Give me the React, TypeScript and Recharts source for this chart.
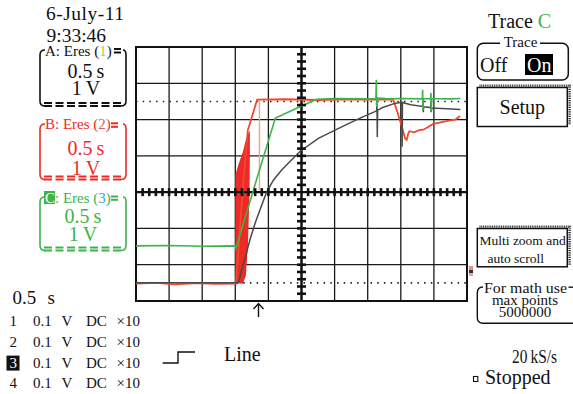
import React from 'react';
import {
  ComposedChart,
  Line,
  Area,
  XAxis,
  YAxis,
  CartesianGrid,
  ReferenceLine,
  ReferenceArea,
  Scatter,
} from 'recharts';

// ---------- data (in screen divisions: x 0..10, y -3..4) ----------
const xGridTicks = [0, 1, 2, 3, 4, 5, 6, 7, 8, 9, 10];
const yGridTicks = [-3, -2, -1, 0, 1, 2, 3, 4];
const cursorLevels = [2.5, -2.5];

// trace A (channel 1, gray)
const traceA = [
  { x: 0, y: -2.5 }, { x: 1.5, y: -2.5 }, { x: 3.0, y: -2.5 }, { x: 3.1, y: -2.48 },
  { x: 3.2, y: -2.12 }, { x: 3.3, y: -1.8 }, { x: 3.44, y: -1.32 }, { x: 3.6, y: -0.85 },
  { x: 3.78, y: -0.4 }, { x: 3.95, y: 0.01 }, { x: 4.15, y: 0.33 }, { x: 4.4, y: 0.61 },
  { x: 4.95, y: 1.12 }, { x: 5.51, y: 1.48 }, { x: 5.86, y: 1.64 }, { x: 6.4, y: 1.88 },
  { x: 6.87, y: 2.08 }, { x: 7.27, y: 2.24 }, { x: 7.28, y: 2.45 }, { x: 7.29, y: 1.52 },
  { x: 7.3, y: 2.26 }, { x: 7.47, y: 2.34 }, { x: 7.8, y: 2.44 }, { x: 8.03, y: 2.48 },
  { x: 8.04, y: 1.25 }, { x: 8.05, y: 2.47 }, { x: 8.3, y: 2.41 }, { x: 8.66, y: 2.36 },
  { x: 8.67, y: 2.52 }, { x: 8.68, y: 2.2 }, { x: 8.69, y: 2.35 }, { x: 8.9, y: 2.33 },
  { x: 8.91, y: 2.5 }, { x: 8.92, y: 2.2 }, { x: 8.93, y: 2.32 }, { x: 9.4, y: 2.3 },
  { x: 9.8, y: 2.28 },
];

// trace B (channel 2, red)
const traceB = [
  { x: 0, y: -2.52 }, { x: 0.6, y: -2.5 }, { x: 1.2, y: -2.54 }, { x: 1.8, y: -2.51 },
  { x: 2.4, y: -2.53 }, { x: 3.02, y: -2.52 }, { x: 3.26, y: 0.47 }, { x: 3.38, y: 1.71 },
  { x: 3.66, y: 2.55 }, { x: 4.5, y: 2.56 }, { x: 5.5, y: 2.54 }, { x: 6.5, y: 2.56 },
  { x: 7.77, y: 2.55 }, { x: 7.9, y: 2.2 }, { x: 8.05, y: 1.75 }, { x: 8.13, y: 1.48 },
  { x: 8.18, y: 1.44 }, { x: 8.22, y: 1.6 }, { x: 8.26, y: 1.68 }, { x: 8.4, y: 1.65 },
  { x: 8.55, y: 1.71 }, { x: 8.68, y: 1.72 }, { x: 8.8, y: 1.78 }, { x: 8.98, y: 1.88 },
  { x: 9.2, y: 1.92 }, { x: 9.49, y: 1.98 }, { x: 9.65, y: 2.0 }, { x: 9.79, y: 2.1 },
];

// trace B noisy envelope during the transition
const traceBBurst = [
  { x: 3.0, range: [-2.52, 0.47] },
  { x: 3.11, range: [-2.52, 0.8] },
  { x: 3.23, range: [-2.52, 1.11] },
  { x: 3.32, range: [-2.3, 1.45] },
  { x: 3.38, range: [-1.5, 1.6] },
  { x: 3.43, range: [0.0, 1.68] },
  { x: 3.44, range: [1.0, 1.68] },
];

// trace B glitch line
const traceBGlitch = [
  { x: 3.73, y: 2.54 },
  { x: 3.73, y: 0.06 },
];

// trace C (channel 3, green)
const traceC = [
  { x: 0, y: -1.48 }, { x: 1, y: -1.47 }, { x: 2, y: -1.49 }, { x: 3.0, y: -1.48 },
  { x: 3.02, y: -1.55 }, { x: 3.54, y: 0.04 }, { x: 4.21, y: 2.04 }, { x: 5.02, y: 2.38 },
  { x: 5.46, y: 2.56 }, { x: 6, y: 2.58 }, { x: 7, y: 2.57 }, { x: 7.25, y: 2.58 },
  { x: 7.26, y: 3.1 }, { x: 7.27, y: 2.35 }, { x: 7.28, y: 2.6 }, { x: 7.6, y: 2.57 },
  { x: 8.0, y: 2.58 }, { x: 8.65, y: 2.57 }, { x: 8.66, y: 2.82 }, { x: 8.67, y: 2.26 },
  { x: 8.68, y: 2.58 }, { x: 8.9, y: 2.57 }, { x: 8.91, y: 2.73 }, { x: 8.92, y: 2.22 },
  { x: 8.93, y: 2.58 }, { x: 9.5, y: 2.57 }, { x: 9.8, y: 2.58 },
];

// minor graticule ticks on the centre axes (every 1/5 division)
const hTicks = Array.from({ length: 49 }, (_, i) => ({ x: (i + 1) / 5, y: 0 })).filter(
  (d) => Math.abs(d.x - 5) > 0.01
);
const vTicks = Array.from({ length: 34 }, (_, i) => ({ x: 5, y: -3 + (i + 1) / 5 })).filter(
  (d) => Math.abs(d.y) > 0.01
);

// text
const dateText = '6-July-11';
const timeText = '9:33:46';
const channelRows = [
  { ch: '1', volts: '0.1', unit: 'V', coupling: 'DC', probe: '×10' },
  { ch: '2', volts: '0.1', unit: 'V', coupling: 'DC', probe: '×10' },
  { ch: '3', volts: '0.1', unit: 'V', coupling: 'DC', probe: '×10' },
  { ch: '4', volts: '0.1', unit: 'V', coupling: 'DC', probe: '×10' },
];

const SERIF = "'Liberation Serif', 'Times New Roman', serif";
const RED = '#ed2a26';
const RED_LINE = '#f04a2e';
const GREEN = '#3cb44a';
const GRAY = '#4a4a4a';

const HTick = (props: any) => (
  <rect x={props.cx - 1.3} y={props.cy - 4} width={2.6} height={8} fill="#111" />
);
const VTick = (props: any) => (
  <rect x={props.cx - 4.5} y={props.cy - 1.3} width={9} height={2.6} fill="#111" />
);

function Bracket({ top, bottom, color }: { top: number; bottom: number; color: string }) {
  const l = 40;
  const r = 126;
  return (
    <g stroke={color} fill="none" strokeWidth={1.6}>
      <path d={`M45 ${top} Q${l} ${top} ${l} ${top + 5} V${bottom - 5} Q${l} ${bottom} ${l + 5} ${bottom}`} />
      <path d={`M${r - 3} ${top} Q${r} ${top} ${r} ${top + 5} V${bottom - 5} Q${r} ${bottom} ${r - 5} ${bottom}`} />
      <line x1={l + 4} x2={r - 4} y1={bottom - 3} y2={bottom - 3} strokeDasharray="8 3.5" strokeWidth={1.8} />
      <line x1={l + 4} x2={r - 4} y1={bottom} y2={bottom} strokeDasharray="8 3.5" strokeWidth={1.8} />
    </g>
  );
}

function Overlay() {
  return (
    <svg
      width={573}
      height={394}
      style={{ position: 'absolute', left: 0, top: 0, pointerEvents: 'none' }}
      fontFamily={SERIF}
    >
      {/* date / time */}
      <text x={46} y={19.5} fontSize={19.5} fill="#111" textLength={78} lengthAdjust="spacing">{dateText}</text>
      <text x={46.5} y={41.5} fontSize={19.5} fill="#111">{timeText}</text>

      {/* channel A box */}
      <Bracket top={50} bottom={106} color="#111" />
      <text x={45} y={55.5} fontSize={15} fill="#111">
        A: Eres (<tspan fill="#c9c43a">1</tspan>)
      </text>
      <line x1={114} x2={121} y1={49} y2={49} stroke="#111" strokeWidth={2} />
      <line x1={114} x2={121} y1={52.5} y2={52.5} stroke="#111" strokeWidth={2} />
      <text x={86} y={78} fontSize={20} fill="#111" textAnchor="middle">0.5{'\u2009'}s</text>
      <text x={86} y={95} fontSize={20} fill="#111" textAnchor="middle">1{'\u2009'}V</text>

      {/* channel B box */}
      <Bracket top={124} bottom={179.5} color={RED} />
      <text x={45} y={129} fontSize={15} fill={RED}>
        B: Eres (<tspan fill="#e0566a">2</tspan>)
      </text>
      <line x1={111} x2={118} y1={123.3} y2={123.3} stroke={RED} strokeWidth={2} />
      <line x1={111} x2={118} y1={126.8} y2={126.8} stroke={RED} strokeWidth={2} />
      <text x={86} y={155} fontSize={20} fill={RED} textAnchor="middle">0.5{'\u2009'}s</text>
      <text x={86} y={175} fontSize={20} fill={RED} textAnchor="middle">1{'\u2009'}V</text>

      {/* channel C box */}
      <Bracket top={197} bottom={250.5} color={GREEN} />
      <rect x={44} y={191} width={11} height={13} fill={GREEN} />
      <text x={45} y={203} fontSize={15} fill="#fff">C</text>
      <text x={55} y={203} fontSize={15} fill={GREEN}>
        : Eres (<tspan fill="#3aa6c6">3</tspan>)
      </text>
      <line x1={111} x2={118} y1={196.5} y2={196.5} stroke={GREEN} strokeWidth={2} />
      <line x1={111} x2={118} y1={199.8} y2={199.8} stroke={GREEN} strokeWidth={2} />
      <text x={83} y={222.5} fontSize={20} fill={GREEN} textAnchor="middle">0.5{'\u2009'}s</text>
      <text x={83} y={240.5} fontSize={20} fill={GREEN} textAnchor="middle">1{'\u2009'}V</text>

      {/* timebase and channel list */}
      <text x={12.5} y={303.5} fontSize={19} fill="#111">0.5</text>
      <text x={47.5} y={303.5} fontSize={19} fill="#111">s</text>
      {channelRows.map((r, i) => {
        const y = 326 + i * 20.8;
        const inv = r.ch === '3';
        return (
          <g key={r.ch} fontSize={15} fill="#111">
            {inv && <rect x={6.5} y={y - 12} width={13} height={15} fill="#111" />}
            <text x={9.5} y={y} fill={inv ? '#fff' : '#111'}>{r.ch}</text>
            <text x={33} y={y}>{r.volts}</text>
            <text x={61.5} y={y}>{r.unit}</text>
            <text x={86} y={y}>{r.coupling}</text>
            <text x={116.5} y={y}>{r.probe}</text>
          </g>
        );
      })}

      {/* trigger symbol */}
      <path d="M162.7 363 H178 V352 H195" stroke="#111" strokeWidth={1.4} fill="none" />
      <text x={224} y={360.5} fontSize={20} fill="#111">Line</text>

      {/* trigger position arrow */}
      <path d="M258.5 303.5 V317 M253.5 309 L258.5 303.5 L263.5 309" stroke="#111" strokeWidth={1.4} fill="none" />

      {/* channel marker on right edge */}
      <rect x={469} y={266} width={4} height={4} fill="#e88c8c" />
      <rect x={469} y={270} width={4} height={3} fill="#333" />
      <rect x={469} y={273} width={4} height={3} fill="#f1a0a0" />

      {/* right panel */}
      <text x={488} y={27.5} fontSize={20} fill="#111">
        Trace <tspan fill={GREEN}>C</tspan>
      </text>
      <rect x={477.3} y={43.3} width={91} height={36.7} rx={6} fill="none" stroke="#111" strokeWidth={1.5} />
      <rect x={500} y={38} width={40} height={10} fill="#fff" />
      <text x={520.5} y={47} fontSize={15} textAnchor="middle" fill="#111">Trace</text>
      <text x={480} y={71.5} fontSize={20} fill="#111">Off</text>
      <rect x={525} y={54} width={28} height={21} fill="#000" />
      <text x={527} y={71.5} fontSize={20} fill="#fff">On</text>

      <polyline points="479.5,85.6 569.6,85.6 569.6,124.5" fill="none" stroke="#333" strokeWidth={2.4} strokeDasharray="1 0.8" />
      <rect x={477.3} y={87.5} width={90} height={39} fill="#fff" stroke="#111" strokeWidth={1.5} />
      <text x={522.3} y={113.5} fontSize={20} textAnchor="middle" fill="#111">Setup</text>

      <polyline points="479.5,226.6 569.6,226.6 569.6,265" fill="none" stroke="#333" strokeWidth={2.4} strokeDasharray="1 0.8" />
      <rect x={477.3} y={228.5} width={90} height={38.3} fill="#fff" stroke="#111" strokeWidth={1.5} />
      <text x={479.5} y={245} fontSize={13.5} fill="#111">Multi zoom and</text>
      <text x={487.5} y={263} fontSize={13.5} fill="#111">auto scroll</text>

      <path d="M483 287 Q477.3 287 477.3 293 V317.5 Q477.3 323.3 483 323.3 H573" fill="none" stroke="#111" strokeWidth={1.4} />
      <line x1={568.5} x2={573} y1={287.2} y2={287.2} stroke="#111" strokeWidth={1.4} />
      <text x={525.5} y={292.5} fontSize={15} textAnchor="middle" fill="#111" textLength={83} lengthAdjust="spacingAndGlyphs">For math use</text>
      <text x={525} y={304.5} fontSize={15} textAnchor="middle" fill="#111">max points</text>
      <text x={525} y={317} fontSize={15} textAnchor="middle" fill="#111">5000000</text>

      <text x={512} y={363} fontSize={19} fill="#111" textLength={45} lengthAdjust="spacingAndGlyphs">20{'\u2009'}kS/s</text>
      <rect x={473.5} y={376.5} width={4.3} height={5} fill="none" stroke="#111" strokeWidth={1.1} />
      <text x={485} y={384} fontSize={20} fill="#111">Stopped</text>
    </svg>
  );
}

export default function App() {
  return (
    <div style={{ position: 'absolute', left: 0, top: 0, width: 573, height: 394, background: '#fff', overflow: 'hidden' }}>
      <ComposedChart
        width={573}
        height={394}
        margin={{ top: 47, left: 136, right: 106, bottom: 93 }}
        style={{ position: 'absolute', left: 0, top: 0 }}
      >
        <XAxis type="number" dataKey="x" domain={[0, 10]} ticks={xGridTicks} hide allowDataOverflow />
        <YAxis type="number" dataKey="y" domain={[-3, 4]} ticks={yGridTicks} hide allowDataOverflow />
        <CartesianGrid stroke="#1a1a1a" strokeWidth={1.3} />
        {cursorLevels.map((lv) => (
          <ReferenceLine key={lv} y={lv} stroke="#222" strokeWidth={1.6} strokeDasharray="1.5 5.2" />
        ))}
        <ReferenceLine x={5} stroke="#111" strokeWidth={2.4} />
        <ReferenceLine y={0} stroke="#111" strokeWidth={2.4} />
        <Scatter data={hTicks} dataKey="y" shape={HTick} isAnimationActive={false} />
        <Scatter data={vTicks} dataKey="y" shape={VTick} isAnimationActive={false} />
        <ReferenceArea x1={0} x2={10} y1={-3} y2={4} fill="none" stroke="#111" strokeWidth={2} />

        <Area
          data={traceBBurst}
          dataKey="range"
          type="linear"
          stroke="none"
          fill={RED}
          fillOpacity={1}
          isAnimationActive={false}
          dot={false}
          activeDot={false}
        />
        <Line data={traceB} dataKey="y" type="linear" stroke={RED_LINE} strokeWidth={1.8} dot={false} activeDot={false} isAnimationActive={false} />
        <Line data={traceBGlitch} dataKey="y" type="linear" stroke="#f3a08e" strokeWidth={1.4} dot={false} activeDot={false} isAnimationActive={false} />
        <Line data={traceA} dataKey="y" type="linear" stroke={GRAY} strokeWidth={1.5} dot={false} activeDot={false} isAnimationActive={false} />
        <Line data={traceC} dataKey="y" type="linear" stroke={GREEN} strokeWidth={1.6} dot={false} activeDot={false} isAnimationActive={false} />
      </ComposedChart>
      <Overlay />
    </div>
  );
}
